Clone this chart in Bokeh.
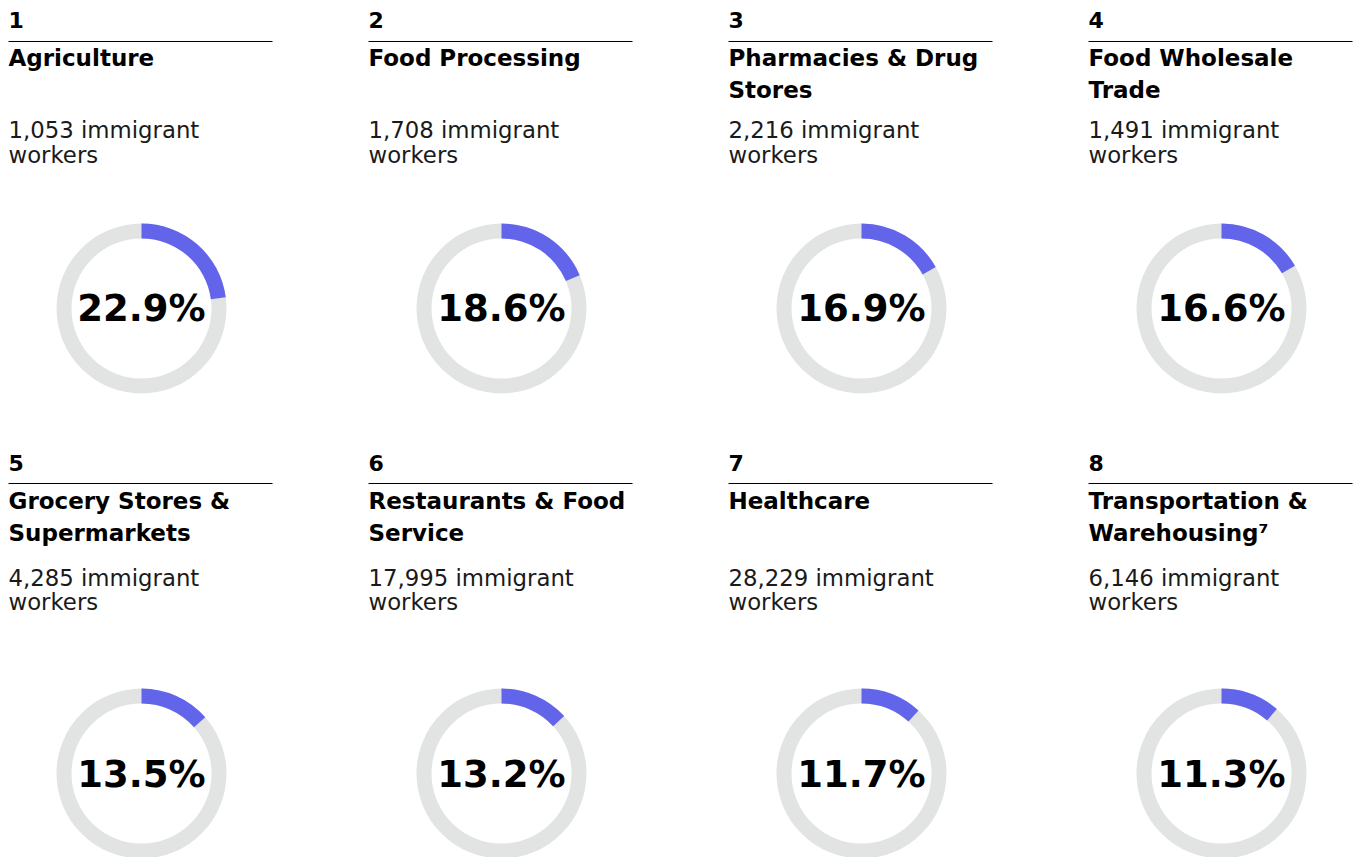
import math
from bokeh.plotting import figure
from bokeh.models import Range1d, ColumnDataSource
from bokeh.core.properties import value
from bokeh.embed import file_html
from bokeh.resources import INLINE

# ---- data ----
ranks = ["1", "2", "3", "4", "5", "6", "7", "8"]
title_line1 = ["Agriculture", "Food Processing", "Pharmacies & Drug", "Food Wholesale",
               "Grocery Stores &", "Restaurants & Food", "Healthcare", "Transportation &"]
title_line2 = ["", "", "Stores", "Trade", "Supermarkets", "Service", "", "Warehousing\u2077"]
workers = [1053, 1708, 2216, 1491, 4285, 17995, 28229, 6146]
workers_sep = [" ", " ", " ", " ", " ", " ", " ", "  "]
share_pct = [22.9, 18.6, 16.9, 16.6, 13.5, 13.2, 11.7, 11.3]

W, H = 1357, 857
BLUE = "#6265E9"
GREY = "#E1E4E3"

FS_NUM, FS_TITLE, FS_WORK, FS_PCT = 22, 23, 22.8, 37
K = 0.39  # baseline correction (fraction of font size)

# ---- layout (pixel positions from the top-left) ----
col_left = [8, 368, 728, 1088]
col_center = [141, 501, 861, 1221]
row_num = [28, 471]
row_rule = [41, 483]
row_t1 = [66, 509]
row_t2 = [98, 541]
row_w1 = [138, 586]
row_w2 = [163, 610]
row_donut = [308, 773]
row_pct = [322, 788]

def fy(v, fs=0):
    return H - (v - K * fs)

n = len(ranks)
cols = [i % 4 for i in range(n)]
rows = [i // 4 for i in range(n)]

src = ColumnDataSource(dict(
    xl=[col_left[c] for c in cols],
    xr=[col_left[c] + 264 for c in cols],
    xc=[col_center[c] for c in cols],
    y_num=[fy(row_num[r], FS_NUM) for r in rows],
    y_rule=[H - row_rule[r] for r in rows],
    y_t1=[fy(row_t1[r], FS_TITLE) for r in rows],
    y_t2=[fy(row_t2[r], FS_TITLE) for r in rows],
    y_w1=[fy(row_w1[r], FS_WORK) for r in rows],
    y_w2=[fy(row_w2[r], FS_WORK) for r in rows],
    y_d=[H - row_donut[r] for r in rows],
    y_pct=[fy(row_pct[r], FS_PCT) for r in rows],
    rank=ranks,
    t1=title_line1,
    t2=title_line2,
    w1=[f"{w:,}{s}immigrant" for w, s in zip(workers, workers_sep)],
    w2=["workers"] * n,
    pct=[f"{p:.1f}%" for p in share_pct],
    end=[math.pi / 2 - 2 * math.pi * p / 100 for p in share_pct],
))

p = figure(width=W, height=H, x_range=Range1d(0, W), y_range=Range1d(0, H),
           output_backend="svg", toolbar_location=None, min_border=0)
p.axis.visible = False
p.grid.visible = False
p.outline_line_color = None
p.background_fill_color = "white"
p.border_fill_color = "white"

# rules
p.segment(x0="xl", y0="y_rule", x1="xr", y1="y_rule", source=src, line_color="#000000", line_width=1.2)

FONT = value("DejaVu Sans")
# texts
p.text(x="xl", y="y_num", text="rank", source=src, text_font=FONT, text_font_style="bold",
       text_font_size=f"{FS_NUM}px", text_color="#000000", text_baseline="alphabetic")
p.text(x="xl", y="y_t1", text="t1", source=src, text_font=FONT, text_font_style="bold",
       text_font_size=f"{FS_TITLE}px", text_color="#000000", text_baseline="alphabetic")
p.text(x="xl", y="y_t2", text="t2", source=src, text_font=FONT, text_font_style="bold",
       text_font_size=f"{FS_TITLE}px", text_color="#000000", text_baseline="alphabetic")
p.text(x="xl", y="y_w1", text="w1", source=src, text_font=FONT,
       text_font_size=f"{FS_WORK}px", text_color="#1a1a1a", text_baseline="alphabetic")
p.text(x="xl", y="y_w2", text="w2", source=src, text_font=FONT,
       text_font_size=f"{FS_WORK}px", text_color="#1a1a1a", text_baseline="alphabetic")

# donuts
p.annular_wedge(x="xc", y="y_d", inner_radius=70, outer_radius=85, start_angle=0, end_angle=2 * math.pi,
                source=src, fill_color=GREY, line_color=None)
p.annular_wedge(x="xc", y="y_d", inner_radius=70, outer_radius=85, start_angle=math.pi / 2, end_angle="end",
                direction="clock", source=src, fill_color=BLUE, line_color=None)

p.text(x="xc", y="y_pct", text="pct", source=src, text_font=FONT, text_font_style="bold",
       text_font_size=f"{FS_PCT}px", text_color="#000000", text_align="center", text_baseline="alphabetic")

open("out.html", "w").write(file_html(p, INLINE))
